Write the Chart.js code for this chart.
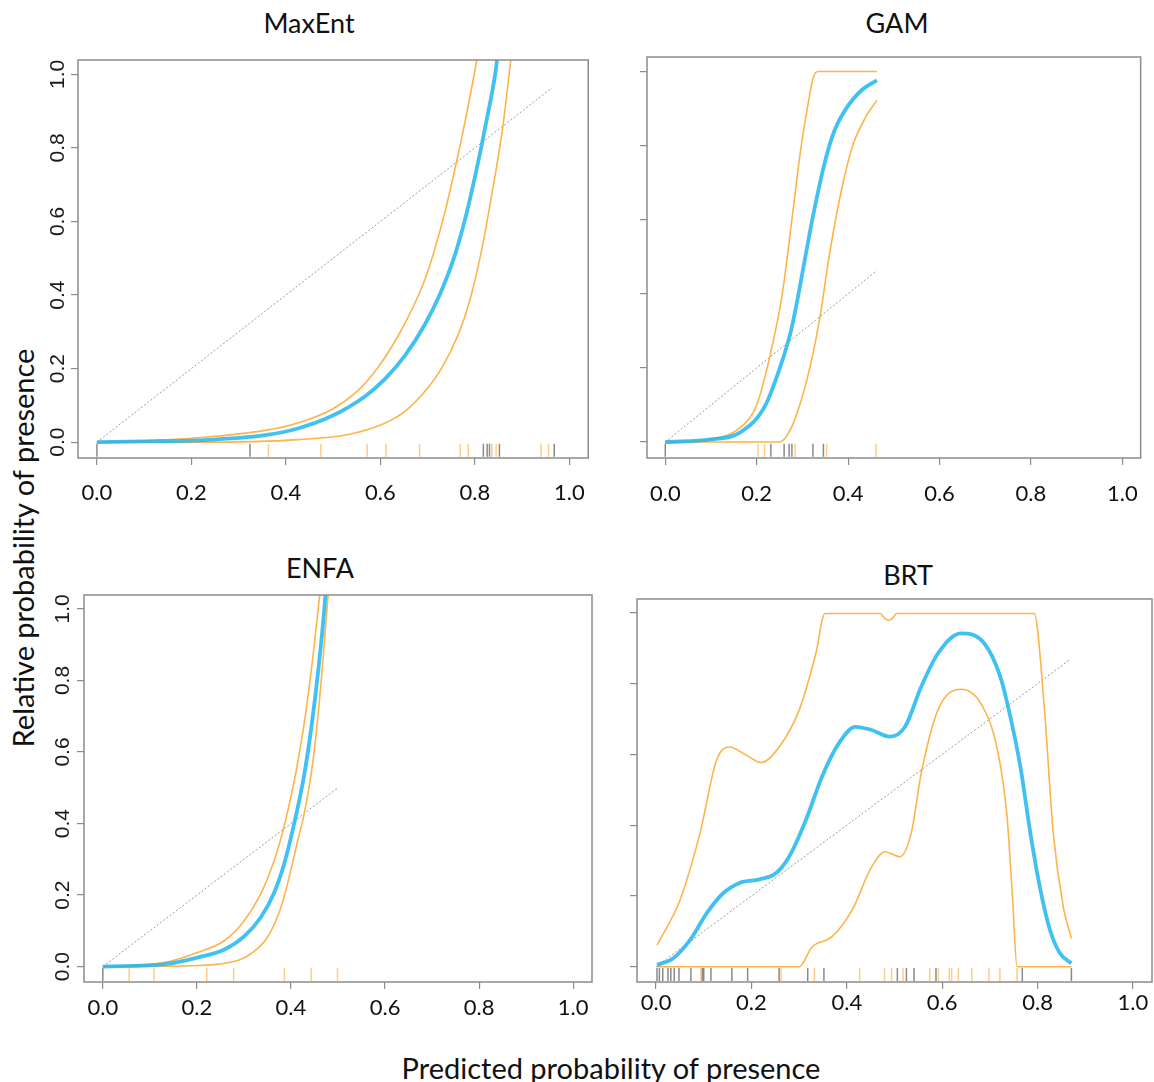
<!DOCTYPE html>
<html>
<head>
<meta charset="utf-8">
<script src="https://cdn.jsdelivr.net/npm/chart.js@4.4.0/dist/chart.umd.min.js"></script>
<style>
  html, body { margin: 0; padding: 0; background: #fff; overflow: hidden; }
  #page { position: relative; width: 1154px; height: 1082px; font-family: Lato, "Open Sans", sans-serif; color: #111; }
  .panel { position: absolute; }
  .title { position: absolute; font-size: 27px; transform: translate(-50%, -50%); white-space: nowrap; }
  .axis { position: absolute; font-size: 29px; white-space: nowrap; transform: translate(-50%, -50%); }
  .axis.yl { transform: translate(-50%, -50%) rotate(-90deg); }
</style>
</head>
<body>
<div id="page">
  <div class="title" style="left:309px; top:22px;">MaxEnt</div>
  <div class="title" style="left:897px; top:22px;">GAM</div>
  <div class="title" style="left:320px; top:567px;">ENFA</div>
  <div class="title" style="left:908px; top:574px;">BRT</div>
  <div class="axis yl" style="left:22px; top:548px;">Relative probability of presence</div>
  <div class="axis" style="left:611px; top:1067px;">Predicted probability of presence</div>

  <div class="panel" style="left:0px; top:0px;"><canvas id="maxent" width="600" height="520"></canvas></div>
  <div class="panel" style="left:600px; top:0px;"><canvas id="gam" width="554" height="520"></canvas></div>
  <div class="panel" style="left:0px; top:540px;"><canvas id="enfa" width="600" height="490"></canvas></div>
  <div class="panel" style="left:600px; top:540px;"><canvas id="brt" width="560" height="490"></canvas></div>
</div>

<script>
// === tick labels (both axes) ===
const tickValues = [0, 0.2, 0.4, 0.6, 0.8, 1.0];

// === MaxEnt ===
const maxentFitX = [0, 0.1, 0.215, 0.356, 0.427, 0.497, 0.568, 0.61, 0.652, 0.695, 0.727, 0.758, 0.782, 0.8, 0.814, 0.824, 0.843, 0.85];
const maxentFitY = [0, 0.002, 0.005, 0.019, 0.038, 0.071, 0.125, 0.172, 0.235, 0.322, 0.405, 0.51, 0.62, 0.72, 0.805, 0.87, 1.0, 1.07];
const maxentUpX = [0, 0.1, 0.215, 0.356, 0.427, 0.497, 0.554, 0.596, 0.638, 0.672, 0.695, 0.713, 0.737, 0.761, 0.779, 0.807, 0.812];
const maxentUpY = [0, 0.004, 0.012, 0.032, 0.053, 0.089, 0.142, 0.205, 0.29, 0.375, 0.445, 0.515, 0.627, 0.761, 0.87, 1.06, 1.1];
const maxentLoX = [0, 0.215, 0.427, 0.532, 0.603, 0.652, 0.695, 0.73, 0.765, 0.789, 0.814, 0.834, 0.859, 0.876, 0.882];
const maxentLoY = [0, 0, 0.007, 0.021, 0.048, 0.084, 0.139, 0.202, 0.293, 0.384, 0.52, 0.66, 0.856, 1.038, 1.1];
const maxentRugGray = [0, 0.324, 0.818, 0.826, 0.831, 0.852, 0.968];
const maxentRugOrange = [0.363, 0.474, 0.572, 0.612, 0.683, 0.769, 0.786, 0.836, 0.845, 0.940, 0.956];
const maxentMax = 0.963;

// === GAM ===
const gamFitX = [0, 0.1, 0.164, 0.218, 0.256, 0.275, 0.29, 0.305, 0.32, 0.335, 0.35, 0.37, 0.393, 0.43, 0.463];
const gamFitY = [0, 0.007, 0.026, 0.097, 0.22, 0.3, 0.39, 0.49, 0.59, 0.68, 0.76, 0.84, 0.895, 0.95, 0.976];
const gamUpX = [0, 0.1, 0.164, 0.2, 0.228, 0.256, 0.277, 0.297, 0.315, 0.324, 0.334, 0.463];
const gamUpY = [0, 0.008, 0.039, 0.1, 0.227, 0.4, 0.6, 0.796, 0.93, 0.985, 1.0, 1.0];
const gamLoX = [0, 0.248, 0.265, 0.286, 0.317, 0.34, 0.355, 0.378, 0.409, 0.44, 0.463];
const gamLoY = [0, 0, 0.015, 0.07, 0.204, 0.349, 0.474, 0.635, 0.796, 0.88, 0.922];
const gamRugGray = [0, 0.231, 0.26, 0.271, 0.277, 0.323, 0.346];
const gamRugOrange = [0.203, 0.217, 0.284, 0.353, 0.461];
const gamMax = 0.463;

// === ENFA ===
const enfaFitX = [0, 0.133, 0.203, 0.259, 0.301, 0.336, 0.364, 0.385, 0.406, 0.42, 0.43, 0.443, 0.459, 0.471, 0.475];
const enfaFitY = [0, 0.007, 0.026, 0.048, 0.085, 0.138, 0.206, 0.285, 0.395, 0.48, 0.55, 0.665, 0.84, 1.0, 1.07];
const enfaUpX = [0, 0.133, 0.203, 0.259, 0.301, 0.336, 0.364, 0.382, 0.396, 0.41, 0.427, 0.447, 0.463, 0.467];
const enfaUpY = [0, 0.012, 0.04, 0.073, 0.129, 0.204, 0.295, 0.375, 0.452, 0.54, 0.67, 0.87, 1.06, 1.1];
const enfaLoX = [0, 0.203, 0.287, 0.315, 0.35, 0.378, 0.399, 0.413, 0.427, 0.439, 0.451, 0.467, 0.479, 0.482];
const enfaLoY = [0, 0.003, 0.017, 0.036, 0.082, 0.163, 0.265, 0.345, 0.42, 0.505, 0.62, 0.84, 1.04, 1.1];
const enfaRugGray = [0];
const enfaRugOrange = [0.056, 0.109, 0.221, 0.278, 0.386, 0.443, 0.499];
const enfaMax = 0.5;

// === BRT ===
const brtFitX = [0.002, 0.036, 0.071, 0.106, 0.14, 0.175, 0.217, 0.251, 0.279, 0.314, 0.348, 0.383, 0.418, 0.452, 0.49, 0.522, 0.556, 0.591, 0.639, 0.688, 0.722, 0.743, 0.764, 0.785, 0.806, 0.826, 0.847, 0.871];
const brtFitY = [0.005, 0.024, 0.075, 0.151, 0.207, 0.237, 0.247, 0.264, 0.311, 0.414, 0.537, 0.631, 0.678, 0.669, 0.65, 0.678, 0.791, 0.885, 0.942, 0.914, 0.819, 0.706, 0.565, 0.377, 0.217, 0.104, 0.038, 0.01];
const brtUpX = [0.002, 0.05, 0.092, 0.127, 0.154, 0.189, 0.22, 0.258, 0.3, 0.335, 0.354, 0.47, 0.479, 0.488, 0.496, 0.504, 0.793, 0.813, 0.833, 0.854, 0.871];
const brtUpY = [0.061, 0.188, 0.377, 0.584, 0.621, 0.598, 0.577, 0.621, 0.725, 0.885, 0.998, 0.998, 0.985, 0.979, 0.985, 0.998, 0.998, 0.753, 0.377, 0.169, 0.08];
const brtLoX = [0.002, 0.3, 0.327, 0.369, 0.411, 0.452, 0.48, 0.511, 0.535, 0.556, 0.591, 0.639, 0.681, 0.716, 0.736, 0.747, 0.757, 0.871];
const brtLoY = [0, 0, 0.056, 0.085, 0.16, 0.282, 0.325, 0.311, 0.377, 0.546, 0.725, 0.784, 0.744, 0.612, 0.424, 0.207, 0, 0];
const brtRugGray = [0.002, 0.007, 0.014, 0.025, 0.031, 0.038, 0.048, 0.073, 0.097, 0.1, 0.115, 0.159, 0.192, 0.258, 0.318, 0.352, 0.506, 0.525, 0.541, 0.587, 0.768, 0.871];
const brtRugOrange = [0.094, 0.262, 0.332, 0.427, 0.479, 0.494, 0.518, 0.574, 0.592, 0.615, 0.62, 0.634, 0.662, 0.698, 0.721, 0.757];
const brtMax = 0.869;

// === couleurs ===
const BLUE = 'rgba(30, 182, 240, 0.85)';
const ORANGE = '#fdb44b';
const RUG_GRAY = '#8a8a8a';
const RUG_ORANGE = '#ffcd85';
const AXIS_GRAY = '#8c8c8c';

function pts(xs, ys) {
  return xs.map((x, i) => ({ x: x, y: ys[i] }));
}

// cadre autour de la zone du graphe
const framePlugin = {
  id: 'frame',
  afterDraw(chart) {
    const { ctx, chartArea } = chart;
    ctx.save();
    ctx.strokeStyle = AXIS_GRAY;
    ctx.lineWidth = 1.5;
    ctx.strokeRect(chartArea.left, chartArea.top, chartArea.right - chartArea.left, chartArea.bottom - chartArea.top);
    ctx.restore();
  }
};

// labels y tournés (style R)
const yLabelPlugin = {
  id: 'yLabels',
  afterDraw(chart, args, o) {
    if (!o.show) return;
    const { ctx, chartArea } = chart;
    const y = chart.scales.y;
    ctx.save();
    ctx.font = '21px "Liberation Sans", Arial, sans-serif';
    ctx.fillStyle = '#1a1a1a';
    ctx.textAlign = 'center';
    ctx.textBaseline = 'middle';
    tickValues.forEach(v => {
      ctx.save();
      ctx.translate(chartArea.left + o.offset, y.getPixelForValue(v));
      ctx.rotate(-Math.PI / 2);
      ctx.fillText(v.toFixed(1), 0, 0);
      ctx.restore();
    });
    ctx.restore();
  }
};

function makePanel(id, p) {
  const rugY = -0.022;
  const line = (data, color, width) => ({
    data: data, borderColor: color, borderWidth: width, showLine: true,
    pointRadius: 0, cubicInterpolationMode: 'monotone', fill: false
  });
  const rug = (xs, color) => ({
    data: xs.map(x => ({ x: x, y: rugY })), showLine: false,
    pointStyle: 'line', rotation: 90, pointRadius: 6.5, borderWidth: 1.5,
    borderColor: color, backgroundColor: color
  });
  const diag = line([{ x: 0, y: 0 }, { x: p.max, y: p.max }], '#9a9a9a', 1);
  diag.borderDash = [2, 2];
  diag.cubicInterpolationMode = 'default';

  new Chart(document.getElementById(id), {
    type: 'scatter',
    data: {
      datasets: [
        line(pts(p.fitX, p.fitY), BLUE, 3.8),
        line(pts(p.upX, p.upY), ORANGE, 1.6),
        line(pts(p.loX, p.loY), ORANGE, 1.6),
        diag,
        rug(p.rugGray, RUG_GRAY),
        rug(p.rugOrange, RUG_ORANGE)
      ]
    },
    options: {
      responsive: false,
      animation: false,
      layout: { padding: { top: p.padTop, right: p.padRight, left: 0, bottom: 0 } },
      plugins: {
        legend: { display: false },
        tooltip: { enabled: false },
        yLabels: { show: p.yLabels, offset: p.yLabelOffset }
      },
      scales: {
        x: {
          type: 'linear', min: -0.04, max: 1.04,
          afterBuildTicks: s => { s.ticks = tickValues.map(v => ({ value: v })); },
          afterFit: s => { s.height = p.xAxisH; },
          ticks: {
            callback: v => v.toFixed(1), color: '#111', padding: p.xLabelPad,
            font: { family: 'Lato', size: 22 }, maxRotation: 0, minRotation: 0
          },
          grid: { drawOnChartArea: false, drawTicks: true, tickLength: 7, color: AXIS_GRAY, lineWidth: 1.2 },
          border: { display: false }
        },
        y: {
          type: 'linear', min: -0.043, max: 1.039,
          afterBuildTicks: s => { s.ticks = tickValues.map(v => ({ value: v })); },
          afterFit: s => { s.width = p.yAxisW; },
          ticks: { display: false },
          grid: { drawOnChartArea: false, drawTicks: true, tickLength: 7, color: AXIS_GRAY, lineWidth: 1.2 },
          border: { display: false }
        }
      }
    },
    plugins: [framePlugin, yLabelPlugin]
  });
}

makePanel('maxent', {
  fitX: maxentFitX, fitY: maxentFitY, upX: maxentUpX, upY: maxentUpY, loX: maxentLoX, loY: maxentLoY,
  rugGray: maxentRugGray, rugOrange: maxentRugOrange, max: maxentMax,
  padTop: 60, padRight: 3, yAxisW: 78, xAxisH: 62, xLabelPad: 15, yLabels: true, yLabelOffset: -20
});
makePanel('gam', {
  fitX: gamFitX, fitY: gamFitY, upX: gamUpX, upY: gamUpY, loX: gamLoX, loY: gamLoY,
  rugGray: gamRugGray, rugOrange: gamRugOrange, max: gamMax,
  padTop: 57, padRight: 6, yAxisW: 47, xAxisH: 62, xLabelPad: 16, yLabels: false, yLabelOffset: 0
});
makePanel('enfa', {
  fitX: enfaFitX, fitY: enfaFitY, upX: enfaUpX, upY: enfaUpY, loX: enfaLoX, loY: enfaLoY,
  rugGray: enfaRugGray, rugOrange: enfaRugOrange, max: enfaMax,
  padTop: 55, padRight: 2, yAxisW: 84, xAxisH: 48, xLabelPad: 6, yLabels: true, yLabelOffset: -21
});
makePanel('brt', {
  fitX: brtFitX, fitY: brtFitY, upX: brtUpX, upY: brtUpY, loX: brtLoX, loY: brtLoY,
  rugGray: brtRugGray, rugOrange: brtRugOrange, max: brtMax,
  padTop: 59, padRight: 4, yAxisW: 37, xAxisH: 48, xLabelPad: 1, yLabels: false, yLabelOffset: 0
});
</script>
</body>
</html>
